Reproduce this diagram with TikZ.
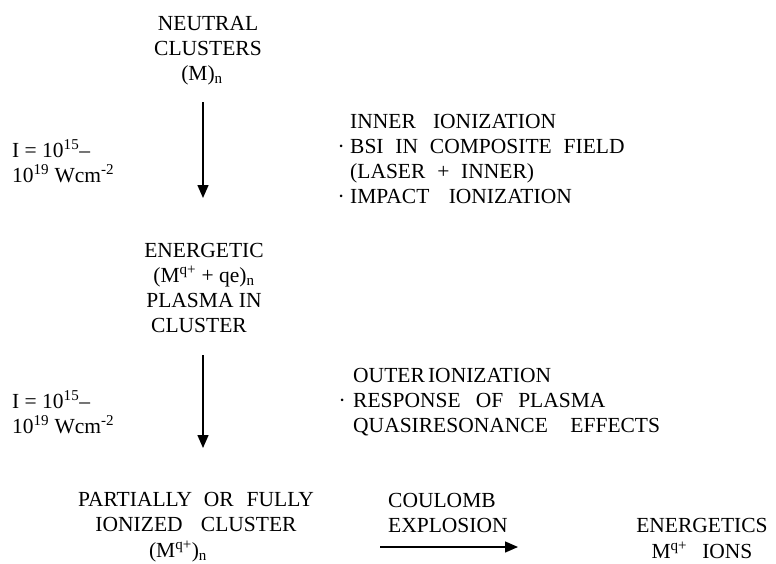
\documentclass[tikz,border=0pt]{standalone}
\usepackage{fontspec}
\setmainfont{Liberation Serif}
\usetikzlibrary{arrows.meta}
\newcommand\mygap[1]{\hspace{#1em}}
\newcommand\mydot[1]{\makebox[#1pt][l]{·}}
\newcommand\topstrut{\rule{0pt}{17.5pt}}
\begin{document}
\begin{tikzpicture}[x=1pt,y=-1pt,
  txt/.style={inner sep=0pt, font=\fontsize{21.5}{25}\selectfont, text=black},
  arr/.style={line width=1.4pt, -{Triangle[length=13pt,width=11pt]}}]
\useasboundingbox (0,0) rectangle (776,563);
\fill[white] (0,0) rectangle (776,563);

\node[txt, anchor=north, align=center] (neutral) at (208,12.5)
  {\strut NEUTRAL\\\strut CLUSTERS\\\strut (M)\textsubscript{n}\hspace*{12pt}};
\node[txt, anchor=north, align=center] (mid) at (204,239.5)
  {\strut ENERGETIC\\\strut (M\textsuperscript{q+} + qe)\textsubscript{n}\\\strut PLASMA IN\\\strut CLUSTER\hspace*{10pt}};
\node[txt, anchor=north, align=center] (bot) at (196,488.5)
  {\strut PARTIALLY\mygap{0.55}OR\mygap{0.6}FULLY\\\strut IONIZED\mygap{0.85}CLUSTER\\\topstrut (M\textsuperscript{q+})\textsubscript{n}\hspace*{36pt}};
\node[txt, anchor=north, align=center] (ions) at (702,514.5)
  {\strut ENERGETICS\\\topstrut M\textsuperscript{q+}\mygap{0.7}IONS};
\node[txt, anchor=north west, align=left] (coulomb) at (388,489.5)
  {\strut COULOMB\\\strut EXPLOSION};
\node[txt, anchor=north west, align=left] (int1) at (12,139.5)
  {\strut I = 10\textsuperscript{15}–\\\strut 10\textsuperscript{19} Wcm\textsuperscript{-2}};
\node[txt, anchor=north west, align=left] (int2) at (12,390.5)
  {\strut I = 10\textsuperscript{15}–\\\strut 10\textsuperscript{19} Wcm\textsuperscript{-2}};
\node[txt, anchor=north west, align=left] (inner) at (337.3,110.5)
  {\strut\hspace*{12.7pt}INNER\mygap{0.8}IONIZATION\\
   \strut\mydot{12.7}BSI\mygap{0.55}IN\mygap{0.55}COMPOSITE\mygap{0.55}FIELD\\
   \strut\hspace*{12.7pt}(LASER\mygap{0.55}+\mygap{0.55}INNER)\\
   \strut\mydot{12.7}IMPACT\mygap{0.9}IONIZATION};
\node[txt, anchor=north west, align=left] (outer) at (338.3,364.5)
  {\strut\hspace*{14.7pt}OUTER\mygap{0.15}IONIZATION\\
   \strut\mydot{14.7}RESPONSE\mygap{0.7}OF\mygap{0.7}PLASMA\\
   \strut\hspace*{14.7pt}QUASIRESONANCE\mygap{1.05}EFFECTS};

\draw[arr, shorten <=14.5pt, shorten >=41.5pt] ([xshift=-5pt]neutral.south) -- ([xshift=-1pt]mid.north);
\draw[arr, shorten <=15.5pt, shorten >=40.5pt] ([xshift=-1pt]mid.south) -- ([xshift=7pt]bot.north);
\coordinate (h1) at (380,547);
\coordinate (h2) at (518,547);
\draw[arr] (h1) -- (h2);
\end{tikzpicture}
\end{document}
